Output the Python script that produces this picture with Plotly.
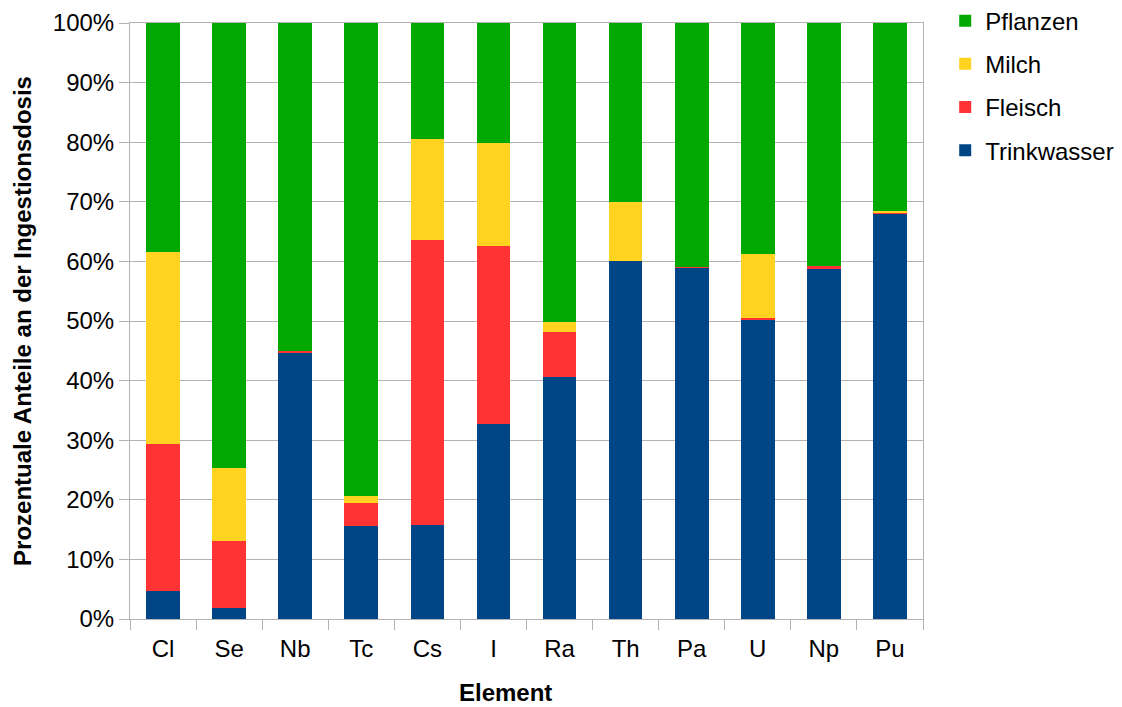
import plotly.graph_objects as go

elements = ["Cl", "Se", "Nb", "Tc", "Cs", "I", "Ra", "Th", "Pa", "U", "Np", "Pu"]
trinkwasser = [4.7, 1.8, 44.7, 15.6, 15.8, 32.7, 40.6, 60.0, 58.9, 50.3, 58.8, 68.0]
fleisch     = [24.7, 11.3, 0.3, 3.9, 47.8, 29.9, 7.6, 0.0, 0.2, 0.2, 0.5, 0.2]
milch       = [32.2, 12.2, 0.0, 1.1, 16.9, 17.3, 1.7, 10.0, 0.0, 10.7, 0.0, 0.2]
pflanzen    = [38.4, 74.7, 55.0, 79.4, 19.5, 20.1, 50.1, 30.0, 40.9, 38.8, 40.7, 31.6]

series = [
    ("Trinkwasser", trinkwasser, "#004586", 4),
    ("Fleisch", fleisch, "#ff3333", 3),
    ("Milch", milch, "#ffd320", 2),
    ("Pflanzen", pflanzen, "#00a800", 1),
]

fig = go.Figure()
for name, vals, col, rank in series:
    fig.add_trace(go.Bar(x=elements, y=[v / 100 for v in vals], name=name,
                         legendgroup=name, legendrank=rank,
                         marker=dict(color=col, line=dict(width=0))))

font = "Liberation Sans, Arial, sans-serif"
fig.update_layout(
    barmode="stack",
    bargap=0.49,
    width=1114, height=699,
    margin=dict(l=122, r=199, t=15, b=88, autoexpand=False),
    paper_bgcolor="white", plot_bgcolor="white",
    font=dict(family=font, size=24, color="black"),
    legend=dict(x=1.028, y=1.041, xanchor="left", yanchor="top",
                traceorder="grouped", font=dict(size=24),
                itemsizing="constant", tracegroupgap=9, itemwidth=30),
    xaxis=dict(showline=True, linecolor="#b3b3b3", linewidth=1,
               ticks="outside", tickson="boundaries", ticklen=10, tickcolor="#b3b3b3",
               ticklabelstandoff=8,
               showgrid=False, mirror=True),
    yaxis=dict(title=dict(text="<b>Prozentuale Anteile an der Ingestionsdosis</b>", font=dict(size=24), standoff=14),
               range=[0, 1], tickformat=".0%", dtick=0.1,
               showline=True, linecolor="#b3b3b3", linewidth=1,
               ticks="outside", ticklen=10, tickcolor="#b3b3b3",
               showgrid=True, gridcolor="#b3b3b3", gridwidth=1,
               zeroline=False, mirror=True),
    annotations=[dict(text="<b>Element</b>", xref="paper", yref="paper",
                      x=0.474, y=-0.1225, xanchor="center", yanchor="middle",
                      showarrow=False, font=dict(size=24))],
)

fig.write_html("out.html")
